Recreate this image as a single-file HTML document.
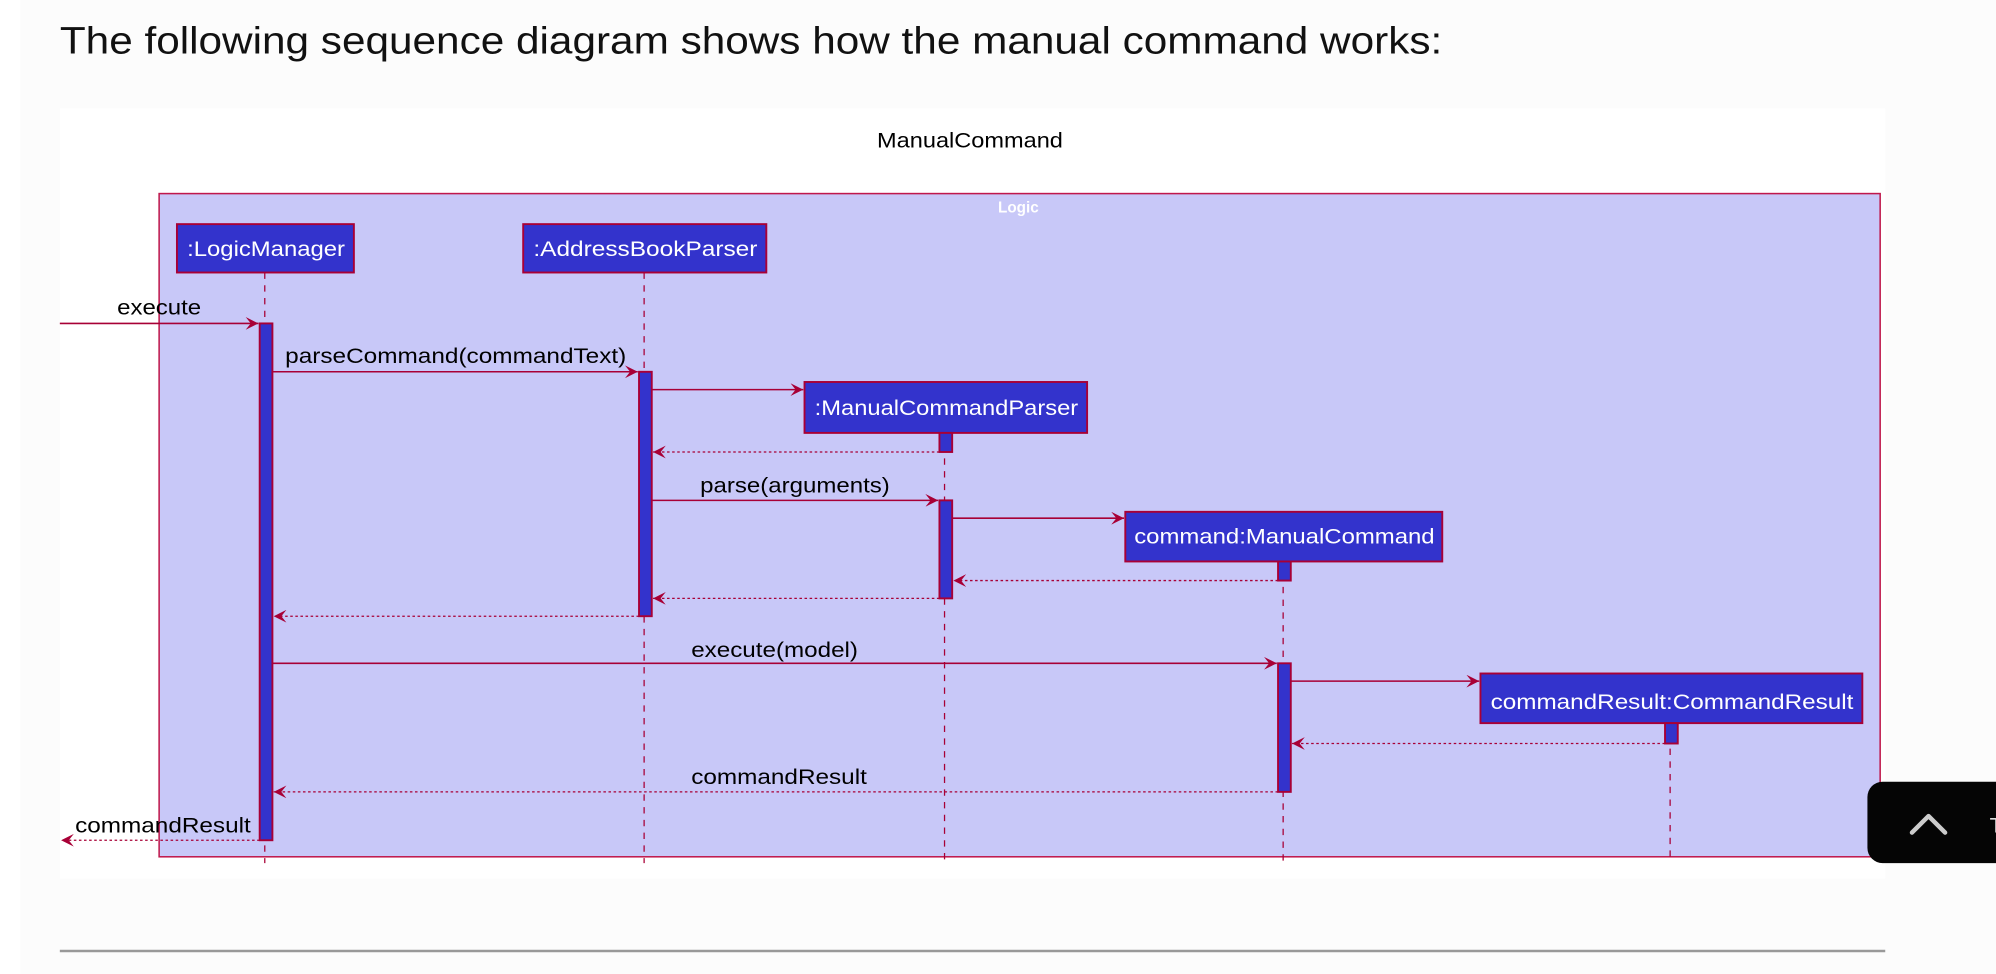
<!DOCTYPE html>
<html><head><meta charset="utf-8"><style>
html,body{margin:0;padding:0;background:#fff;}
svg{display:block;}
</style></head><body>
<svg width="1996" height="974" viewBox="0 0 1568 765" xmlns="http://www.w3.org/2000/svg" font-family="Liberation Sans, sans-serif">
<defs>
<marker id="a" markerWidth="12" markerHeight="10" refX="10" refY="5" orient="auto" markerUnits="userSpaceOnUse">
<path d="M0,0 L10,5 L0,10 L4,5 Z" fill="#a80036"/>
</marker>
</defs>
<rect x="0" y="0" width="1568" height="765" fill="#ffffff"/>
<rect x="16" y="0" width="1552" height="765" fill="#fcfcfc"/>
<text x="47" y="42" font-size="30" fill="#111" textLength="1086" lengthAdjust="spacingAndGlyphs">The following sequence diagram shows how the manual command works:</text>
<rect x="47" y="85" width="1434" height="605" fill="#ffffff"/>
<text x="689" y="116" font-size="17" fill="#000" textLength="146" lengthAdjust="spacingAndGlyphs">ManualCommand</text>
<rect x="125" y="152" width="1352" height="521" fill="#c8c8f8" stroke="#c0184c" stroke-width="1.2"/>
<text x="800" y="167" font-size="12" font-weight="bold" text-anchor="middle" fill="#fff">Logic</text>
<g stroke="#a80036" stroke-width="1" stroke-dasharray="5,5">
<line x1="208" y1="214" x2="208" y2="678"/>
<line x1="506" y1="214" x2="506" y2="678"/>
<line x1="742" y1="340" x2="742" y2="678"/>
<line x1="1008" y1="441" x2="1008" y2="678"/>
<line x1="1312" y1="568" x2="1312" y2="678"/>
</g>
<g fill="#3333cc" stroke="#a80036" stroke-width="1.5">
<rect x="139" y="176" width="139" height="38"/>
<rect x="411" y="176" width="191" height="38"/>
<rect x="632" y="300" width="222" height="40"/>
<rect x="884" y="402" width="249" height="39"/>
<rect x="1163" y="529" width="300" height="39"/>
<rect x="204" y="254" width="10" height="406"/>
<rect x="502" y="292" width="10" height="192"/>
<rect x="738" y="340" width="10" height="15"/>
<rect x="738" y="393" width="10" height="77"/>
<rect x="1004" y="441" width="10" height="15"/>
<rect x="1004" y="521" width="10" height="101"/>
<rect x="1308" y="568" width="10" height="16"/>
</g>
<g fill="#fff" font-size="17" lengthAdjust="spacingAndGlyphs">
<text x="147" y="201" textLength="124" lengthAdjust="spacingAndGlyphs">:LogicManager</text>
<text x="419" y="201" textLength="176" lengthAdjust="spacingAndGlyphs">:AddressBookParser</text>
<text x="640" y="326" textLength="207" lengthAdjust="spacingAndGlyphs">:ManualCommandParser</text>
<text x="891" y="427" textLength="236" lengthAdjust="spacingAndGlyphs">command:ManualCommand</text>
<text x="1171" y="557" textLength="285" lengthAdjust="spacingAndGlyphs">commandResult:CommandResult</text>
</g>
<g stroke="#a80036" stroke-width="1.2" fill="none" marker-end="url(#a)">
<line x1="47" y1="254" x2="203" y2="254"/>
<line x1="214" y1="292" x2="501" y2="292"/>
<line x1="512" y1="306" x2="631" y2="306"/>
<line x1="512" y1="393" x2="737" y2="393"/>
<line x1="748" y1="407" x2="883" y2="407"/>
<line x1="214" y1="521" x2="1003" y2="521"/>
<line x1="1014" y1="535" x2="1162" y2="535"/>
</g>
<g stroke="#a80036" stroke-width="1" fill="none" stroke-dasharray="2,2" marker-end="url(#a)">
<line x1="738" y1="355" x2="513" y2="355"/>
<line x1="1004" y1="456" x2="749" y2="456"/>
<line x1="738" y1="470" x2="513" y2="470"/>
<line x1="502" y1="484" x2="215" y2="484"/>
<line x1="1308" y1="584" x2="1015" y2="584"/>
<line x1="1004" y1="622" x2="215" y2="622"/>
<line x1="204" y1="660" x2="48" y2="660"/>
</g>
<g font-size="17" fill="#000">
<text x="92" y="247" textLength="66" lengthAdjust="spacingAndGlyphs">execute</text>
<text x="224" y="285" textLength="268" lengthAdjust="spacingAndGlyphs">parseCommand(commandText)</text>
<text x="550" y="387" textLength="149" lengthAdjust="spacingAndGlyphs">parse(arguments)</text>
<text x="543" y="516" textLength="131" lengthAdjust="spacingAndGlyphs">execute(model)</text>
<text x="543" y="616" textLength="138" lengthAdjust="spacingAndGlyphs">commandResult</text>
<text x="59" y="654" textLength="138" lengthAdjust="spacingAndGlyphs">commandResult</text>
</g>
<line x1="47" y1="747" x2="1481" y2="747" stroke="#999" stroke-width="2"/>
<rect x="1467" y="614" width="120" height="64" rx="12" fill="#050505"/>
<polyline points="1502,654 1515,641 1528,654" fill="none" stroke="#ccc" stroke-width="3.5" stroke-linecap="round" stroke-linejoin="round"/>
<text x="1563" y="654" font-size="17" fill="#ddd">T</text>
</svg>
</body></html>
